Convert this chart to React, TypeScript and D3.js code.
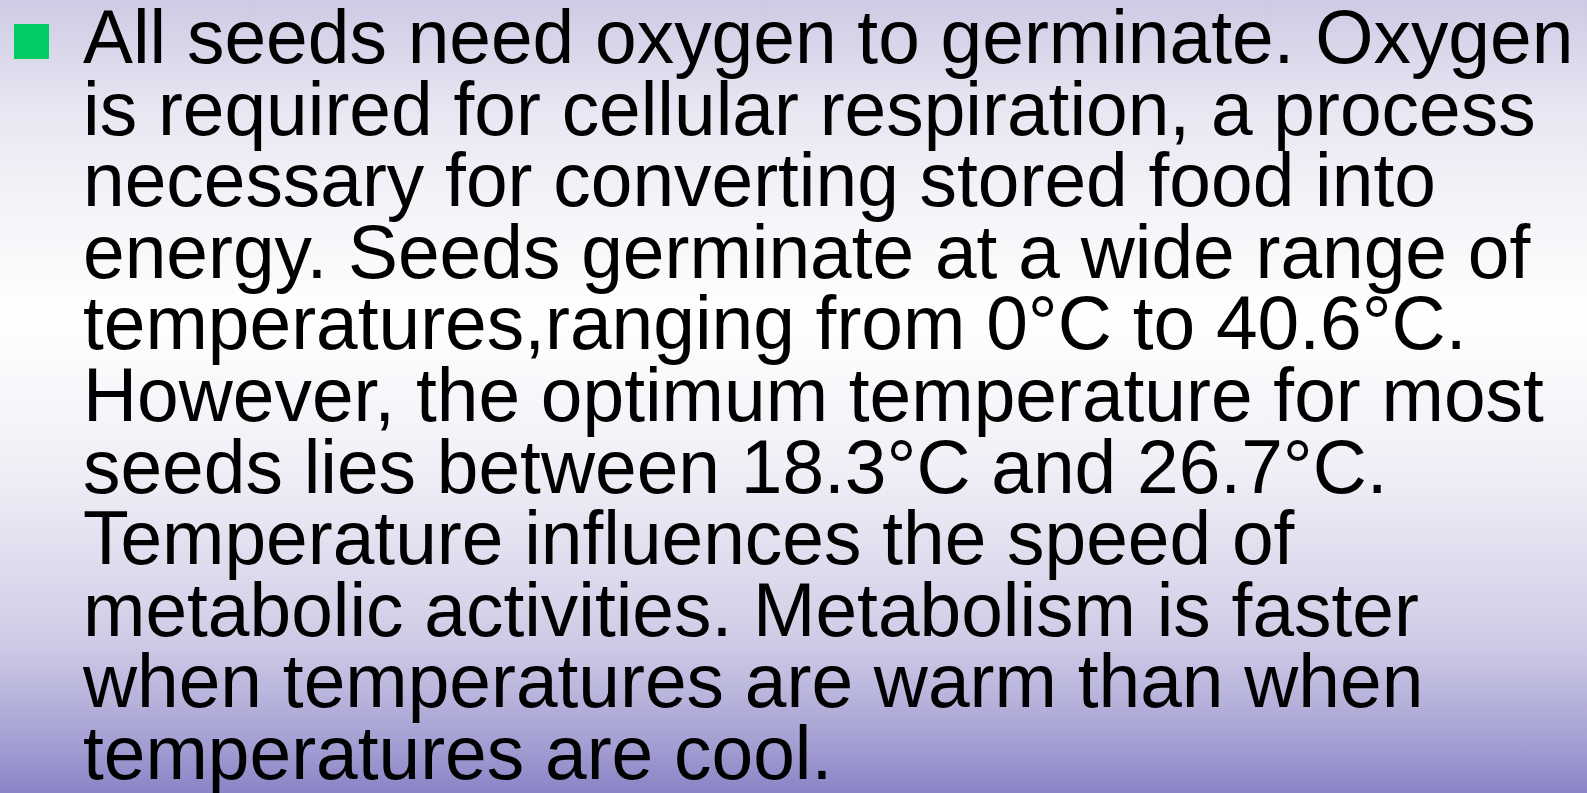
import React, { useEffect, useRef } from 'react';
import * as d3 from 'd3';

const lines = [
  'All seeds need oxygen to germinate. Oxygen',
  'is required for cellular respiration, a process',
  'necessary for converting stored food into',
  'energy. Seeds germinate at a wide range of',
  'temperatures,ranging from 0°C to 40.6°C.',
  'However, the optimum temperature for most',
  'seeds lies between 18.3°C and 26.7°C.',
  'Temperature influences the speed of',
  'metabolic activities. Metabolism is faster',
  'when temperatures are warm than when',
  'temperatures are cool.',
];

const gradientOffsets = [0, 0.08, 0.15, 0.25, 0.4, 0.6, 0.77, 0.82, 0.89, 0.94, 1];
const gradientColors = ['#cdcbe4', '#dcdbec', '#e9e8f3', '#f3f3f8', '#ffffff', '#efeef6', '#d5d3e9', '#cbc8e5', '#b4b0da', '#a39ed2', '#8a84c6'];

const W = 1587;
const H = 793;

const App: React.FC = () => {
  const svgRef = useRef<SVGSVGElement | null>(null);

  useEffect(() => {
    document.body.style.margin = '0';
    const svgEl = svgRef.current;
    if (!svgEl) return;
    const svg = d3.select(svgEl);
    svg.selectAll('*').remove();

    const defs = svg.append('defs');
    const grad = defs.append('linearGradient')
      .attr('id', 'bg')
      .attr('x1', 0).attr('y1', 0).attr('x2', 0).attr('y2', 1);
    grad.selectAll('stop')
      .data(gradientOffsets)
      .enter()
      .append('stop')
      .attr('offset', (d) => d)
      .attr('stop-color', (_d, i) => gradientColors[i]);

    svg.append('rect').attr('width', W).attr('height', H).attr('fill', 'url(#bg)');

    // baselines of each text line
    const y = d3.scaleLinear().domain([0, lines.length - 1]).range([63, 779]);

    svg.append('rect')
      .attr('x', 14).attr('y', 24)
      .attr('width', 35).attr('height', 35)
      .attr('fill', '#00cc66');

    svg.append('g')
      .attr('transform', 'translate(83,0) scale(0.992,1)')
      .selectAll('text')
      .data(lines)
      .enter()
      .append('text')
      .attr('x', 0)
      .attr('y', (_d, i) => y(i))
      .attr('font-family', '"Liberation Sans", Arial, sans-serif')
      .attr('font-size', 75.5)
      .attr('fill', '#000')
      .text((d) => d);
  }, []);

  return (
    <svg ref={svgRef} width={W} height={H} style={{ position: 'absolute', left: 0, top: 0, display: 'block' }}></svg>
  );
};

export default App;
